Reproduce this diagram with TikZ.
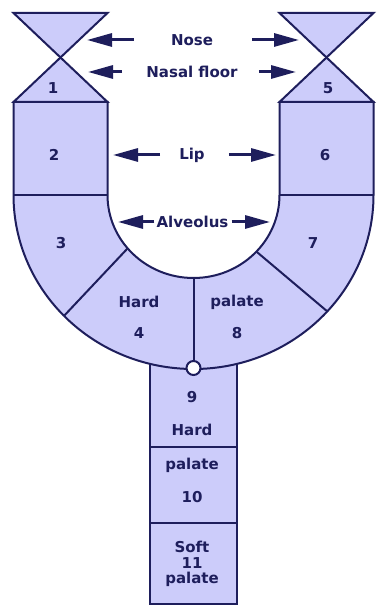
\documentclass[tikz,border=0pt]{standalone}
\usepackage{fontspec}
\setmainfont{DejaVu Sans}
\usetikzlibrary{arrows.meta}
\definecolor{lav}{RGB}{204,204,250}
\definecolor{navy}{RGB}{30,30,92}
\begin{document}
\begin{tikzpicture}[x=1pt,y=1pt,
  part/.style={draw=navy,fill=lav,line width=2pt,line join=miter},
  sep/.style={draw=navy,line width=2pt},
  lbl/.style={text=navy,font=\fontsize{15}{17}\selectfont\bfseries,inner sep=0pt},
  pointer/.style={draw=navy,line width=3pt,-{Triangle[length=25pt,width=13pt]}}]
\useasboundingbox (0,0) rectangle (376,609);
\fill[white] (0,0) rectangle (376,609);
% stem
\draw[part] (150,5) rectangle (237,250);
\draw[sep] (150,162) -- (237,162);
\draw[sep] (150,86) -- (237,86);
% U shape
\draw[part] (13.5,507) -- (107.5,507) -- (107.5,414)
  arc[start angle=180,end angle=360,x radius=86,y radius=83]
  -- (279.5,507) -- (373.5,507) -- (373.5,414)
  arc[start angle=0,end angle=-180,x radius=180,y radius=174] -- cycle;
% hourglasses
\draw[part] (13.5,596) -- (107.5,596) -- (60.5,551.5) -- cycle;
\draw[part] (60.5,551.5) -- (13.5,507) -- (107.5,507) -- cycle;
\draw[part] (279.5,596) -- (373.5,596) -- (326.5,551.5) -- cycle;
\draw[part] (326.5,551.5) -- (279.5,507) -- (373.5,507) -- cycle;
% dividers
\draw[sep] (13.5,414) -- (107.5,414);
\draw[sep] (279.5,414) -- (373.5,414);
\draw[sep] (127.6,360.6) -- (64.0,293.1);
\draw[sep] (256.4,357.4) -- (327.3,297.6);
\draw[sep] (193.5,331) -- (193.5,248);
\draw[draw=navy,fill=white,line width=2pt] (193.5,241) circle[radius=7];
% numbers and words
\node[lbl] (n1) at (53,521) {1};
\node[lbl] (n5) at (328,521) {5};
\node[lbl] (n2) at (54,454) {2};
\node[lbl] (n6) at (325,454) {6};
\node[lbl] (n3) at (61,366) {3};
\node[lbl] (n7) at (313,366) {7};
\node[lbl] (hard1) at (139,307) {Hard};
\node[lbl] (n4) at (139,276) {4};
\node[lbl] (pal1) at (237,307) {palate};
\node[lbl] (n8) at (237,276) {8};
\node[lbl] (n9) at (192,212) {9};
\node[lbl] (hard2) at (192,179) {Hard};
\node[lbl] (pal2) at (192,144) {palate};
\node[lbl] (n10) at (192,112) {10};
\node[lbl] (soft) at (192,62) {Soft};
\node[lbl] (n11) at (192,46) {11};
\node[lbl] (pal3) at (192,30) {palate};
% labels with arrows
\node[lbl] (nose) at (192,569) {Nose};
\node[lbl] (floor) at (192,537) {Nasal floor};
\node[lbl] (lip) at (192,454) {Lip};
\node[lbl] (alv) at (192.5,387) {Alveolus};
\coordinate (noseL) at (87,569);
\coordinate (noseR) at (299,569);
\coordinate (floorL) at (88,537);
\coordinate (floorR) at (296,537);
\coordinate (lipL) at (113,454);
\coordinate (lipR) at (276,454);
\coordinate (alvL) at (118,387);
\coordinate (alvR) at (270,387);
\draw[pointer] ([xshift=-37pt]nose.west) -- (noseL);
\draw[pointer] ([xshift=39pt]nose.east) -- (noseR);
\draw[pointer] ([xshift=-24pt]floor.west) -- (floorL);
\draw[pointer] ([xshift=21pt]floor.east) -- (floorR);
\draw[pointer] ([xshift=-19pt]lip.west) -- (lipL);
\draw[pointer] ([xshift=24pt]lip.east) -- (lipR);
\draw[pointer] ([xshift=-2pt]alv.west) -- (alvL);
\draw[pointer] ([xshift=3pt]alv.east) -- (alvR);
\end{tikzpicture}
\end{document}
